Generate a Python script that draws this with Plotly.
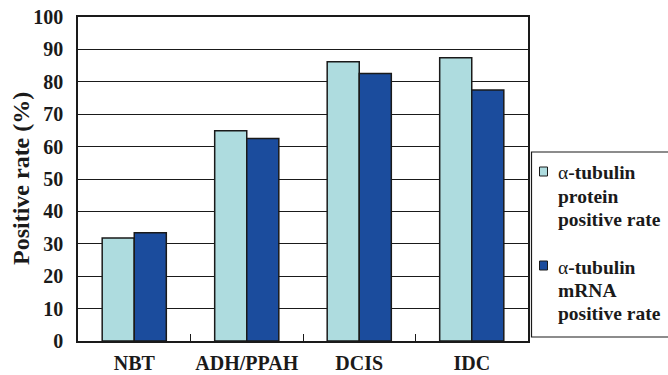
import plotly.graph_objects as go

categories = ["NBT", "ADH/PPAH", "DCIS", "IDC"]
protein_rate = [31.8, 64.9, 86.2, 87.4]
mrna_rate = [33.4, 62.5, 82.6, 77.5]
legend_lines = [
    ["α<b>-tubulin</b>", "<b>protein</b>", "<b>positive rate</b>"],
    ["α<b>-tubulin</b>", "<b>mRNA</b>", "<b>positive rate</b>"],
]
y_ticks = list(range(0, 101, 10))

FONT = "Liberation Serif"
INK = "#1a1a1a"
LIGHT = "#aedcdf"
DARK = "#1b4c9d"
W, H = 668, 375
ML, MR, MT, MB = 78, 140, 17, 34
PW, PH = W - ML - MR, H - MT - MB


def px(x):
    return (x - ML) / PW


def py(y):
    return (H - MB - y) / PH


fig = go.Figure()
fig.add_trace(go.Bar(
    x=categories, y=protein_rate, name="protein",
    marker=dict(color=LIGHT, line=dict(color=INK, width=1.5)),
))
fig.add_trace(go.Bar(
    x=categories, y=mrna_rate, name="mRNA",
    marker=dict(color=DARK, line=dict(color=INK, width=1.5)),
))

# legend: framed box with swatches and three-line labels
shapes = [dict(type="rect", xref="paper", yref="paper",
               x0=px(531.5), x1=px(675), y0=py(337), y1=py(152),
               line=dict(color=INK, width=1.2), fillcolor="white", layer="above")]
annotations = []
swatch_y = [(167, 176), (261, 270)]
line_y = [[172, 196, 219], [267, 290, 313]]
for k, color in enumerate([LIGHT, DARK]):
    y0, y1 = swatch_y[k]
    shapes.append(dict(type="rect", xref="paper", yref="paper",
                       x0=px(539.5), x1=px(547.5), y0=py(y1), y1=py(y0),
                       line=dict(color=INK, width=1), fillcolor=color, layer="above"))
    for text, yy in zip(legend_lines[k], line_y[k]):
        annotations.append(dict(
            text=text, xref="paper", yref="paper", x=px(556), y=py(yy),
            xanchor="left", yanchor="middle", showarrow=False,
            font=dict(family=FONT, size=19.5, color=INK),
        ))

# y-axis title, rotated, placed left of the tick labels
annotations.append(dict(
    text="<b>Positive rate (%)</b>", xref="paper", yref="paper",
    x=px(21), y=0.5, xanchor="center", yanchor="middle", textangle=-90,
    showarrow=False, font=dict(family=FONT, size=24, color=INK),
))

fig.update_layout(
    width=W, height=H,
    margin=dict(l=ML, r=MR, t=MT, b=MB, autoexpand=False),
    paper_bgcolor="white", plot_bgcolor="white",
    barmode="group", bargap=0.43, bargroupgap=0,
    font=dict(family=FONT, color=INK, size=20),
    showlegend=False,
    shapes=shapes, annotations=annotations,
    xaxis=dict(
        type="category", tickson="boundaries",
        tickvals=categories, ticktext=[f"<b>{c}</b>" for c in categories],
        ticks="inside", ticklen=7, tickcolor=INK, tickwidth=1.2,
        showline=True, linecolor=INK, linewidth=1.5, mirror=True,
        tickfont=dict(family=FONT, size=20, color=INK),
        tickangle=0, ticklabelstandoff=3, automargin=False,
        showgrid=False,
    ),
    yaxis=dict(
        range=[0, 100], tickvals=y_ticks,
        ticktext=[f"<b>{v}</b>" for v in y_ticks],
        showgrid=True, gridcolor=INK, gridwidth=1,
        showline=True, linecolor=INK, linewidth=1.5, mirror=True,
        ticks="", ticklabelstandoff=9, automargin=False,
        tickfont=dict(family=FONT, size=20, color=INK),
        zeroline=False,
    ),
)

fig.write_html("out.html")
